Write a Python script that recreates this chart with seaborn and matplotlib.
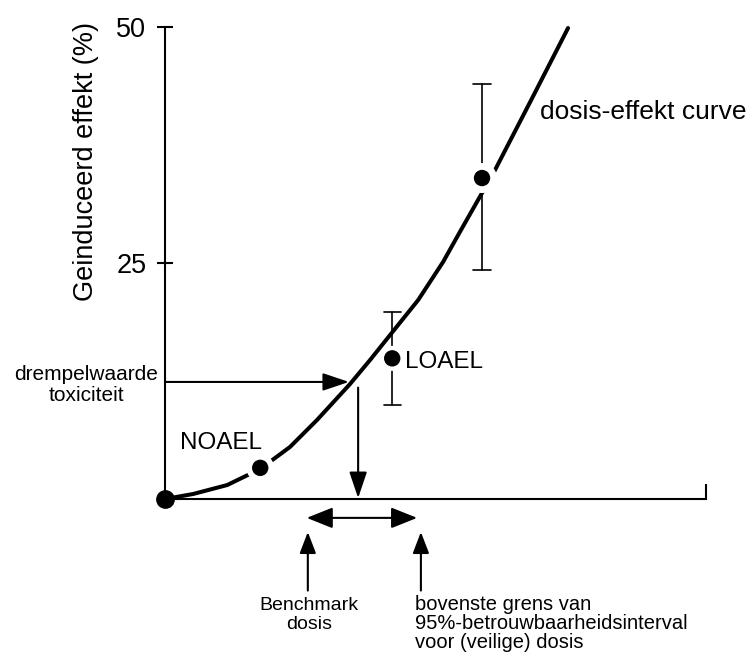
import numpy as np
import pandas as pd
import matplotlib
matplotlib.use("Agg")
import matplotlib.pyplot as plt
import seaborn as sns

# -------------------------------------------------------------------
# Gegevens
# -------------------------------------------------------------------

curve_dose = [0, 5.2, 11.5, 17.6, 23.1, 28.1, 34.2, 37.9, 41.6, 46.8, 51.4, 54.5,
              58.6, 61.0, 67.5, 74.5]
curve_effect = [0, 0.53, 1.48, 3.18, 5.51, 8.37, 12.18, 14.72, 17.37, 21.08, 25.11,
                28.28, 32.42, 34.85, 42.06, 49.89]

point_names = ["NOAEL", "LOAEL", "hoog"]
point_dose = [17.6, 42.0, 58.6]
point_effect = [3.3, 14.9, 34.0]
err_low = [None, 10.0, 24.3]
err_high = [None, 19.8, 44.0]

threshold_effect = 12.4
benchmark_dose = 35.7
interval_dose = [26.2, 46.6]

y_ticks = [25, 50]
y_tick_labels = ["25", "50"]

# -------------------------------------------------------------------
# Opmaak
# -------------------------------------------------------------------

sns.set_theme(style="white", rc={
    "text.color": "black",
    "axes.labelcolor": "black",
    "xtick.color": "black",
    "ytick.color": "black",
    "xtick.bottom": True,
    "ytick.left": True,
})
plt.rcParams["font.family"] = ["Liberation Sans", "DejaVu Sans"]

fig = plt.figure(figsize=(7.51, 6.6), dpi=100)
ax = fig.add_axes([165 / 751, 161 / 660, 541 / 751, 472 / 660])

df_curve = pd.DataFrame({"dose": curve_dose, "effect": curve_effect})
sns.lineplot(data=df_curve, x="dose", y="effect", sort=False, estimator=None,
             color="black", linewidth=2.9, ax=ax, clip_on=False, zorder=2)

# foutbalken
for x, lo, hi in zip(point_dose, err_low, err_high):
    if lo is None:
        continue
    ax.plot([x, x], [lo, hi], color="black", lw=1.2, clip_on=False, zorder=1)
    for yy in (lo, hi):
        ax.plot([x - 1.6, x + 1.6], [yy, yy], color="black", lw=1.2,
                clip_on=False, zorder=1)

df_pts = pd.DataFrame({"name": point_names, "dose": point_dose, "effect": point_effect})
# witte ring rond de punten (onderbreking van curve en foutbalk)
ring = np.array([20.0, 18.0, 21.6]) ** 2
sns.scatterplot(data=df_pts, x="dose", y="effect", s=ring, color="white",
                edgecolor="none", ax=ax, clip_on=False, zorder=3)
sns.scatterplot(data=df_pts, x="dose", y="effect", s=11.8 ** 2, color="black",
                edgecolor="none", ax=ax, clip_on=False, zorder=4)
ax.scatter([0], [0], s=12.5 ** 2, color="black", clip_on=False, zorder=5)

ax.set_xlim(0, 100)
ax.set_ylim(0, 50)
ax.set_xticks([100])
ax.set_xticklabels([""])
ax.tick_params(axis="x", bottom=True, direction="in", length=11, width=1.5, color="black")
ax.set_yticks(y_ticks)
ax.set_yticklabels(y_tick_labels, fontsize=19.5)
ax.tick_params(axis="y", left=True, direction="inout", length=11, width=1.5,
               color="black", pad=8)
for side in ("top", "right"):
    ax.spines[side].set_visible(False)
for side in ("left", "bottom"):
    ax.spines[side].set_color("black")
    ax.spines[side].set_linewidth(1.5)
ax.set_xlabel("")
ax.set_ylabel("Geinduceerd effekt (%)", fontsize=19.5)
ax.yaxis.set_label_coords(-0.122, 0.7155)

# pijlen
head = dict(color="black", lw=1.5, shrinkA=0, shrinkB=0, mutation_scale=20)
ax.annotate("", xy=(34.0, threshold_effect), xytext=(0, threshold_effect),
            arrowprops=dict(arrowstyle="-|>,head_length=0.8,head_width=0.27", **head),
            annotation_clip=False)
ax.annotate("", xy=(benchmark_dose, 0.1), xytext=(benchmark_dose, 11.8),
            arrowprops=dict(arrowstyle="-|>,head_length=0.8,head_width=0.27", **head),
            annotation_clip=False)
ax.annotate("", xy=(interval_dose[1], -2.0), xytext=(interval_dose[0], -2.0),
            arrowprops=dict(arrowstyle="<|-|>,head_length=0.8,head_width=0.32", **head),
            annotation_clip=False)
for x in (26.4, 47.3):
    ax.annotate("", xy=(x, -3.5), xytext=(x, -9.7),
                arrowprops=dict(arrowstyle="-|>,head_length=0.65,head_width=0.25", **head),
                annotation_clip=False)

# teksten
ax.text(-14.6, 12.1, "drempelwaarde\ntoxiciteit", fontsize=15, ha="center",
        va="center", linespacing=1.15, clip_on=False)
ax.text(10.4, 5.9, "NOAEL", fontsize=17.5, ha="center", va="center")
ax.text(44.4, 14.5, "LOAEL", fontsize=17.5, ha="left", va="center")
ax.text(69.3, 41.0, "dosis-effekt curve", fontsize=19, ha="left", va="center")
ax.text(26.6, -12.3, "Benchmark\ndosis", fontsize=14, ha="center", va="center",
        linespacing=1.2, clip_on=False)
ax.text(46.2, -13.2, "bovenste grens van\n95%-betrouwbaarheidsinterval\nvoor (veilige) dosis",
        fontsize=14.5, ha="left", va="center", linespacing=1.0, clip_on=False)

fig.savefig("out.png", dpi=100, facecolor="white")
